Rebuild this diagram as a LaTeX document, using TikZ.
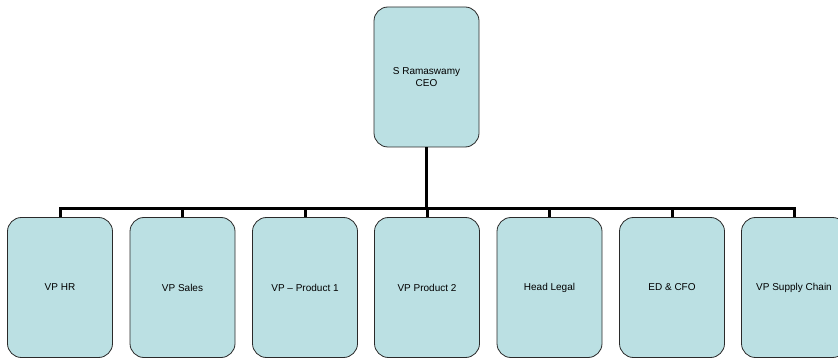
\documentclass[tikz,border=0pt]{standalone}
\usepackage{fontspec}
\setmainfont{Liberation Sans}
\definecolor{boxfill}{HTML}{BBE0E3}
\definecolor{boxline}{HTML}{2A2A2A}
\begin{document}
\begin{tikzpicture}[x=1pt,y=-1pt,
  orgbox/.style={draw=boxline, line width=0.8pt, fill=boxfill, rounded corners=14pt,
    minimum width=105pt, minimum height=140pt, inner sep=0pt, align=center,
    font=\fontsize{10}{12}\selectfont},
  conn/.style={line width=3pt, draw=black}]
\clip (0,0) rectangle (838,358);
\fill[white] (0,0) rectangle (838,358);

% top of the chart
\node[orgbox] (ceo) at (426.5,77) {S Ramaswamy\\CEO};

% direct reports
\node[orgbox] (hr)     at (60,287.5)  {VP HR};
\node[orgbox] (sales)  at (182.5,287.5) {VP Sales};
\node[orgbox] (prod1)  at (305,287.5) {VP -- Product 1};
\node[orgbox] (prod2)  at (427,287.5) {VP Product 2};
\node[orgbox] (legal)  at (549.5,287.5) {Head Legal};
\node[orgbox] (cfo)    at (672,287.5) {ED \& CFO};
\node[orgbox] (supply) at (794,287.5) {VP Supply Chain};

% horizontal bus
\coordinate (bus) at (0,208.5);
\draw[conn, line cap=rect] (hr.north |- bus) -- (supply.north |- bus);
\draw[conn, line width=3.5pt] (ceo.south) -- (ceo.south |- bus);
\foreach \c in {hr,sales,prod1,prod2,legal,cfo,supply}
  \draw[conn] (\c.north |- bus) -- (\c.north);
\end{tikzpicture}
\end{document}
